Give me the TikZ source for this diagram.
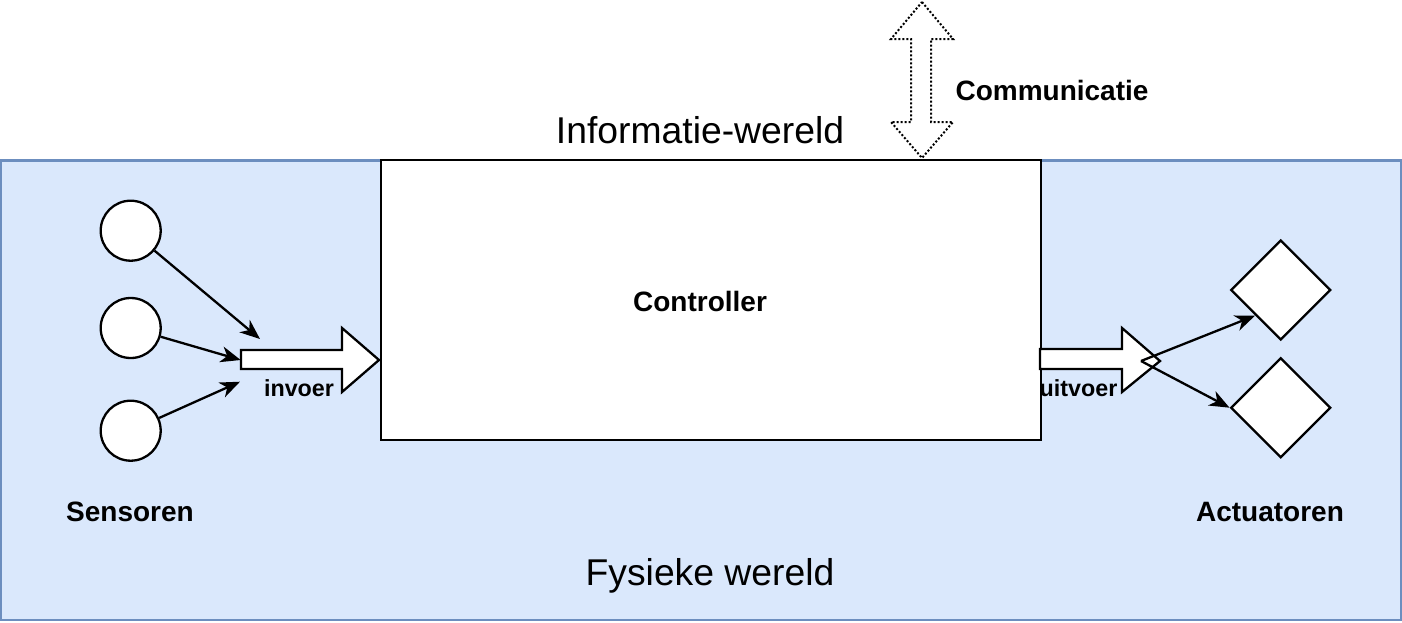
\documentclass[tikz,border=0pt]{standalone}
\usepackage{fontspec}
\setmainfont{Liberation Sans}
\usetikzlibrary{arrows.meta,shapes.geometric}
\definecolor{bgfill}{HTML}{DAE8FC}
\definecolor{bgline}{HTML}{6C8EBF}
\begin{document}
\begin{tikzpicture}[x=1pt,y=-1pt,line join=miter,
  world/.style={draw=bgline,fill=bgfill,line width=2.3pt,inner sep=0pt},
  whitebox/.style={draw=black,fill=white,line width=2.3pt,inner sep=0pt},
  sensor/.style={circle,draw=black,fill=white,line width=2.3pt,inner sep=0pt,minimum size=60pt},
  actuator/.style={diamond,aspect=1,draw=black,fill=white,line width=2.3pt,inner sep=0pt,minimum size=100pt},
  conn/.style={draw=black,line width=2.3pt,-{Stealth[length=20pt,width=16pt,inset=6pt]}},
  blockarrow/.style={draw=black,fill=white,line width=2.3pt},
  dotarrow/.style={draw=black,fill=white,line width=2pt,dash pattern=on 2pt off 2pt},
  lbl/.style={font=\fontsize{28}{34}\selectfont\bfseries,inner sep=0pt,anchor=base},
  smalllbl/.style={font=\fontsize{23.3}{28}\selectfont\bfseries,inner sep=0pt,anchor=base},
  biglbl/.style={font=\fontsize{37.3}{44}\selectfont,inner sep=0pt,anchor=base}]
\useasboundingbox (0,0) rectangle (1402,622);

% worlds
\node[world,minimum width=1400pt,minimum height=459.5pt] (fysiek) at (701,390.25) {};
\node[whitebox,minimum width=660pt,minimum height=280pt] (ctrl) at (711,300) {};

% sensors and actuators
\node[sensor] (s1) at (130.7,230.7) {};
\node[sensor] (s2) at (130.7,328) {};
\node[sensor] (s3) at (130.7,430.7) {};
\node[actuator] (a1) at (1280.7,290) {};
\node[actuator] (a2) at (1280.7,407.7) {};

% block arrows
\draw[blockarrow] (241,350) -- (342,350) -- (342,328) -- (379,360) -- (342,392) -- (342,369) -- (241,369) -- cycle;
\draw[blockarrow] (1040,349) -- (1122,349) -- (1122,328) -- (1160,361) -- (1122,392) -- (1122,369) -- (1040,369) -- cycle;
\draw[dotarrow] (922,2) -- (953,39) -- (931,39) -- (931,122) -- (953,122) -- (922,158) -- (891,122) -- (911,122) -- (911,39) -- (891,39) -- cycle;

% connector ends
\coordinate (t1) at (260,339);
\coordinate (t2) at (240.7,360);
\coordinate (t3) at (240,381.7);
\coordinate (o) at (1141,361);

\draw[conn] (s1) -- (t1);
\draw[conn] (s2) -- (t2);
\draw[conn] (s3) -- (t3);
\draw[conn] (o) -- (a1.south west);
\draw[conn] (o) -- (a2.west);

% labels
\node[biglbl] (infow) at (700,143) {Informatie-wereld};
\node[lbl] (comm) at (1052,100) {Communicatie};
\node[lbl] (ctrllbl) at (700,311) {Controller};
\node[smalllbl] (inv) at (299,396.5) {invoer};
\node[smalllbl] (uitv) at (1078.5,396.5) {uitvoer};
\node[lbl] (sens) at (130,521) {Sensoren};
\node[lbl] (act) at (1270,521) {Actuatoren};
\node[biglbl] (fys) at (710,585) {Fysieke wereld};
\end{tikzpicture}
\end{document}
